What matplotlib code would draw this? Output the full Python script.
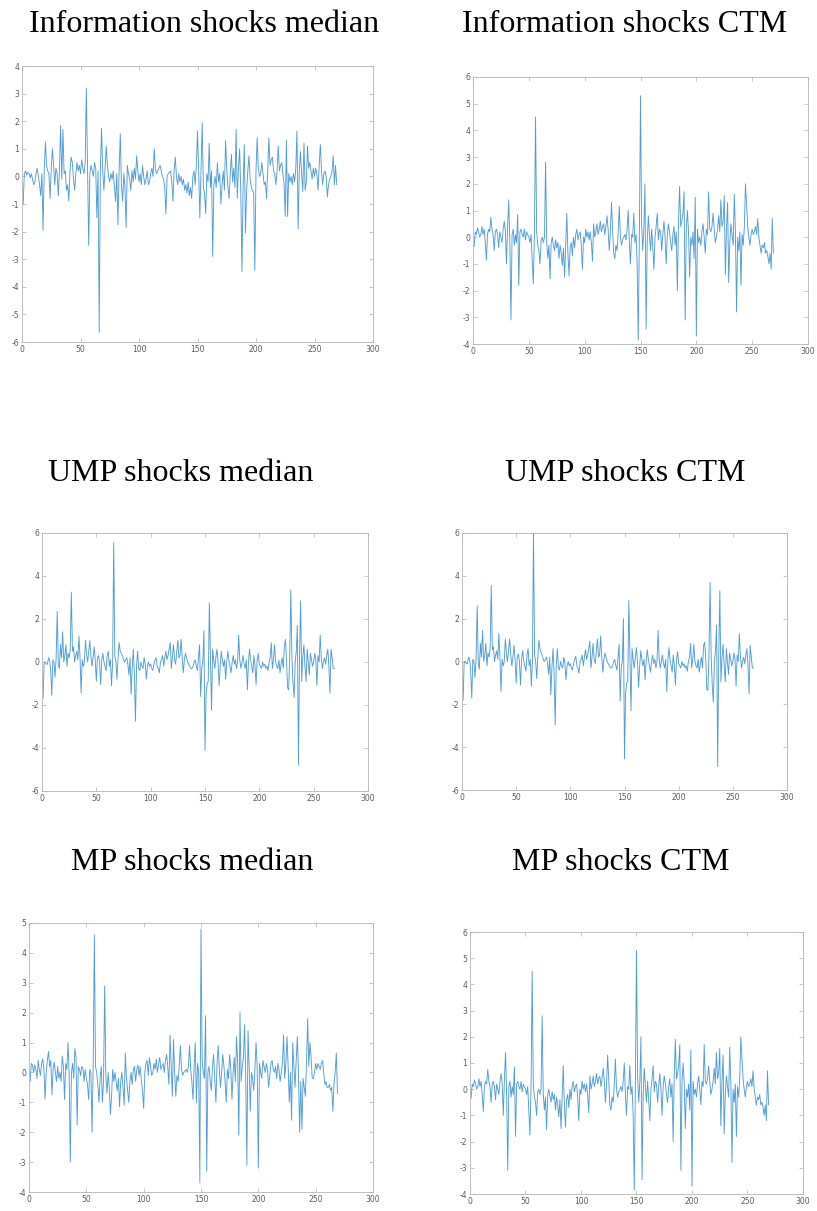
import matplotlib
matplotlib.use('Agg')
import matplotlib.pyplot as plt
import numpy as np

plt.rcParams['font.family'] = 'DejaVu Sans'
plt.rcParams['axes.unicode_minus'] = False

# series (index 1..269)
info_median = [
    -1.0, 0.1, 0.2, 0.05, 0.15, 0.1, -0.05, 0.1, -0.1, -0.3,
    -0.2, 0.1, 0.3, 0.0, -0.3, -0.7, 0.1, -1.95, 0.2, 1.25,
    0.4, 0.2, 0.1, -0.8, 0.3, 1.0, 0.4, -0.3, 0.3, 0.1,
    -0.7, 0.2, 1.85, -0.1, 1.7, 0.1, 0.2, -0.5, -0.3, -0.9,
    0.2, 0.7, 0.5, -0.1, -0.5, 0.1, 0.5, 0.2, 0.4, 0.1,
    0.6, 0.3, 0.1, 0.5, 3.2, 0.3, -2.5, 0.1, 0.4, 0.2,
    0.0, 0.5, 0.3, -1.5, 0.2, -5.65, 0.3, 1.75, 0.2, -0.5,
    0.3, 1.1, 0.4, 0.0, -0.2, 0.1, -0.1, 0.2, -0.4, -0.9,
    0.1, -1.75, 0.2, 1.55, -0.3, -0.9, 0.1, -0.4, -1.85, 0.4,
    0.1, -0.1, -0.5, 0.2, -0.2, 0.3, -0.1, 0.75, 0.2, -0.2,
    0.1, -0.3, 0.4, 0.0, -0.3, -0.1, 0.2, -0.3, -0.2, 0.1,
    0.3, 0.0, 1.0, 0.3, 0.1, 0.2, 0.3, 0.4, 0.2, 0.0,
    -0.1, -0.4, -1.35, 0.0, 0.1, 0.15, 0.2, -0.2, -0.9, 0.2,
    0.7, 0.0, -0.3, 0.1, -0.2, 0.0, -0.3, -0.1, -0.5, -0.3,
    -0.6, -0.2, -0.7, -0.4, -0.8, 0.0, 0.2, -0.3, 0.4, 1.65,
    0.2, -1.5, 0.3, 1.95, -0.4, -0.6, -1.35, 0.1, -0.2, 1.2,
    -0.4, 0.2, -2.9, -0.3, 0.0, -0.4, 0.5, -0.2, 0.1, -1.0,
    -0.3, 0.2, -0.5, 1.3, 0.3, -0.4, -0.8, 0.1, 0.8, -0.2,
    0.3, -0.4, 1.7, -0.8, 0.3, 1.0, -0.6, -3.45, -0.3, 1.15,
    -2.05, -0.5, 0.2, 0.75, -0.1, -0.4, -0.5, -0.6, -3.4, 0.2,
    1.4, 0.3, 0.0, 0.1, 0.5, 0.1, -0.3, -0.2, -0.8, 0.2,
    1.4, 0.4, 0.6, 0.7, 0.2, 0.1, -0.3, 0.2, 1.1, 0.2,
    0.4, 0.5, 0.1, -0.3, -1.45, 1.3, -1.45, 0.1, -0.2, 0.0,
    -0.3, 0.1, -0.2, 0.3, 1.65, -1.9, 0.2, 0.9, 0.1, -0.55,
    1.2, -0.5, -0.2, 1.1, 0.3, 0.5, 0.2, -0.1, 0.3, 0.0,
    0.3, 0.1, -0.5, 0.4, 1.15, 0.2, -0.3, 0.1, 0.2, 0.0,
    -0.75, -0.3, -0.1, 0.0, 0.2, 0.75, -0.3, 0.4, -0.3,
]

info_ctm = [
    -0.35, 0.2, 0.1, 0.35, 0.2, 0.0, 0.1, 0.4, 0.1, 0.3,
    -0.2, -0.85, 0.1, 0.3, 0.2, 0.75, 0.3, 0.1, -0.5, 0.2,
    0.3, 0.1, -0.4, 0.2, 0.0, -0.2, 0.3, 0.6, 0.2, -1.0,
    0.4, 1.4, -0.2, -3.1, 0.1, 0.3, -0.3, 0.1, -0.2, 0.85,
    -1.8, 0.2, 0.3, 0.1, 0.0, 0.3, -0.1, 0.2, 0.1, 0.0,
    -0.2, 0.1, -0.8, -1.75, 0.1, 4.5, 0.2, -0.3, -0.5, -1.0,
    -0.1, 0.0, -0.2, 0.0, 2.8, -0.2, -0.8, -0.3, -1.55, -0.2,
    0.0, -0.3, -0.5, -0.1, -0.4, -0.2, -0.8, -0.3, -0.6, -1.05,
    -0.4, -1.5, -0.3, 0.9, -0.6, -1.45, -0.4, -0.2, -0.7, 0.0,
    -0.4, 0.1, 0.3, -0.1, 0.1, 0.2, -0.3, -1.2, 0.0, -0.2,
    0.3, 0.0, 0.2, -0.1, 0.2, -0.2, -0.9, 0.5, 0.0, 0.2,
    0.5, 0.1, 0.3, 0.6, 0.2, 0.4, 0.5, 0.1, 0.4, 0.8,
    0.3, -0.5, 0.2, 1.3, 0.3, -0.6, -0.8, -0.3, -0.5, 0.2,
    1.15, 0.0, -0.3, -0.1, 0.0, 0.1, -0.1, 0.3, 1.0, -0.2,
    -1.0, 0.1, 0.0, 0.9, -0.2, 0.1, -1.0, -3.85, 0.2, 5.3,
    0.5, -0.5, 0.3, 2.0, -3.45, -0.2, 0.8, 0.1, -0.5, 0.3,
    -0.4, -1.2, 0.0, 0.4, 0.9, -0.1, 0.3, 0.2, -0.5, 0.1,
    0.6, 0.0, -1.0, 0.1, 0.5, 0.2, -0.2, -0.5, 0.1, 0.4,
    -0.3, 0.2, -2.0, 0.5, 1.9, 0.4, 0.6, 0.9, 1.7, -3.1,
    0.3, 1.0, 0.2, -1.5, 0.0, -0.3, 0.2, -0.8, 1.5, -3.7,
    0.3, -0.2, 0.0, -0.3, 0.2, 0.5, 0.0, -0.6, 0.3, 0.1,
    1.7, 0.3, 0.2, 0.4, 0.9, 0.3, -0.2, 0.0, 0.3, 0.8,
    0.2, 1.4, 0.4, 0.6, 1.55, -1.4, 0.3, 1.3, -1.7, -0.2,
    0.5, 0.1, -0.3, 1.6, 0.2, -2.8, 0.0, -0.5, 0.2, -1.8,
    0.1, -0.3, 0.4, 2.0, 1.2, 0.4, 0.0, -0.3, 0.1, 0.3,
    0.1, 0.2, 0.4, 0.1, 0.7, 0.0, -0.3, -0.6, -0.3, -0.4,
    -0.2, -0.6, -0.5, -0.7, -1.0, -0.6, -1.2, 0.7, -0.6,
]

ump_median = [
    -1.7, 0.0, 0.0, -0.1, -0.1, 0.2, 0.1, -0.4, -1.55, 0.1,
    0.0, -0.7, 0.2, 2.35, -0.1, -0.3, 0.8, 0.2, 1.4, 0.0,
    0.3, 0.8, -0.2, 0.4, 0.2, 0.6, 3.25, 0.5, 0.7, 0.0,
    0.3, 0.5, 0.1, 1.2, 0.2, -1.45, 0.1, -0.2, 0.0, 1.0,
    0.4, 0.0, 0.5, 1.0, 0.3, -0.2, 0.2, 0.7, 0.1, -0.9,
    0.2, 0.3, 0.0, -1.05, 0.1, 0.4, 0.0, -0.2, -0.4, 0.3,
    0.5, -0.2, 0.1, -1.1, 0.0, 5.55, 0.3, 0.0, -0.8, 0.2,
    0.9, 0.5, 0.4, 0.3, 0.1, 0.0, 0.1, 0.2, -0.1, -0.6,
    0.2, -1.5, -0.3, 0.6, -0.5, -2.75, -0.2, 0.5, -0.3, -0.4,
    0.0, -0.2, -0.3, 0.2, -0.1, -0.8, -0.2, 0.0, -0.2, -0.1,
    -0.3, -0.4, -0.1, 0.1, 0.2, -0.2, -0.3, -0.5, 0.0, 0.1,
    0.3, -0.2, 0.2, 0.5, 0.1, 0.3, 0.6, 0.9, -0.3, 0.2,
    0.8, 0.1, -0.1, 0.5, 1.0, 0.2, 0.3, 1.05, 0.2, -0.5,
    0.1, 0.4, 0.2, 0.0, -0.1, -0.2, -0.3, -0.3, -0.2, 0.0,
    0.1, -0.2, -0.4, 0.2, 0.8, -1.6, -0.3, 0.0, 1.45, -4.1,
    -1.5, -1.0, -0.9, 2.75, 0.3, -2.25, 0.6, 0.1, -0.3, 0.2,
    0.6, 0.0, -1.1, -0.2, 0.5, 0.1, -0.2, 0.1, -0.8, 0.0,
    0.5, 0.1, -0.2, -0.5, 0.0, 0.3, -0.1, 0.1, -0.3, 0.0,
    1.25, 0.1, -0.3, 0.0, 0.3, -0.1, -0.3, 0.1, -1.3, 0.0,
    0.6, 0.1, -0.2, -0.5, 0.3, -0.2, -1.05, 0.1, 0.4, -0.1,
    -0.2, -0.3, 0.0, -0.2, -0.1, -0.3, -0.2, -0.4, 0.0, 0.2,
    0.9, -0.3, 0.1, 0.8, 0.0, -0.2, -0.3, 0.1, -0.5, -0.1,
    0.2, -0.3, 0.7, 1.05, 0.1, -1.2, -1.3, 0.4, 3.35, 0.2,
    -1.0, -1.65, 0.0, 0.5, 1.7, -4.8, 0.3, 2.85, -0.9, 0.2,
    0.8, -0.2, -0.9, 0.6, 0.0, -0.6, 0.4, 0.1, -0.2, 0.0,
    0.4, 0.1, -1.1, 0.3, 0.0, 1.25, 0.2, -0.3, 0.0, 0.2,
    -0.1, 0.3, 0.6, -0.2, -1.45, 0.6, 0.2, -0.3, -0.3,
]

ump_ctm = [
    -1.8, 0.0, 0.0, -0.1, -0.1, 0.2, 0.1, -0.4, -1.7, 0.1,
    0.0, -0.75, 0.2, 2.6, -0.1, -0.35, 0.85, 0.2, 1.45, 0.0,
    0.3, 0.85, -0.2, 0.4, 0.2, 0.6, 3.55, 0.55, 0.7, 0.0,
    0.3, 0.5, 0.1, 1.3, 0.2, -1.4, 0.1, -0.2, 0.0, 1.05,
    0.4, 0.0, 0.5, 1.05, 0.3, -0.2, 0.2, 0.75, 0.1, -1.0,
    0.2, 0.35, 0.0, -1.1, 0.1, 0.5, 0.0, -0.2, -0.45, 0.3,
    0.6, -0.2, 0.1, -1.15, 0.0, 6.0, 0.3, 0.0, -0.8, 0.2,
    1.0, 0.6, 0.4, 0.3, 0.1, 0.0, 0.1, 0.2, -0.1, -0.6,
    0.2, -1.55, -0.3, 0.6, -0.5, -2.95, -0.2, 0.6, -0.3, -0.4,
    0.0, -0.2, -0.3, 0.2, -0.1, -0.85, -0.2, 0.0, -0.2, -0.1,
    -0.3, -0.4, -0.1, 0.1, 0.25, -0.2, -0.3, -0.55, 0.0, 0.1,
    0.3, -0.2, 0.2, 0.55, 0.1, 0.3, 0.6, 0.95, -0.3, 0.2,
    0.85, 0.1, -0.1, 0.5, 1.05, 0.2, 0.3, 1.2, 0.2, -0.5,
    0.1, 0.4, 0.2, 0.0, -0.1, -0.2, -0.3, -0.3, -0.2, 0.0,
    0.1, -0.2, -0.4, 0.2, 0.8, -1.85, -0.3, 0.0, 2.0, -4.55,
    -1.5, -1.0, -0.9, 2.85, 0.3, -2.3, 0.6, 0.1, -0.3, 0.2,
    0.65, 0.0, -1.2, -0.2, 0.5, 0.1, -0.2, 0.1, -0.85, 0.0,
    0.55, 0.1, -0.2, -0.5, 0.0, 0.3, -0.1, 0.1, -0.3, 0.0,
    1.45, 0.1, -0.3, 0.0, 0.3, -0.1, -0.3, 0.1, -1.4, 0.0,
    0.65, 0.1, -0.2, -0.5, 0.3, -0.2, -1.1, 0.1, 0.45, -0.1,
    -0.2, -0.3, 0.0, -0.2, -0.1, -0.3, -0.2, -0.45, 0.0, 0.2,
    0.85, -0.3, 0.1, 0.8, 0.0, -0.2, -0.3, 0.1, -0.5, -0.1,
    0.2, -0.3, 0.75, 0.9, 0.1, -1.3, -1.35, 0.4, 3.7, 0.2,
    -1.1, -1.9, 0.0, 0.5, 1.7, -4.9, 0.3, 3.3, -0.95, 0.2,
    0.8, -0.2, -0.95, 0.6, 0.0, -0.6, 0.4, 0.1, -0.2, 0.0,
    0.4, 0.1, -1.15, 0.3, 0.0, 1.3, 0.2, -0.3, 0.0, 0.2,
    -0.1, 0.3, 0.6, -0.2, -1.5, 0.75, 0.2, -0.3, -0.3,
]

mp_median = [
    -0.3, 0.3, 0.25, 0.0, 0.25, 0.1, -0.2, 0.4, 0.1, -0.1,
    0.3, 0.45, 0.1, -0.9, 0.0, 0.4, 0.7, 0.2, 0.4, -0.75,
    0.1, 0.35, 0.0, -0.3, 0.2, -0.2, 0.0, -0.3, 0.55, 0.2,
    -0.9, 0.3, 0.1, 1.0, 0.0, -3.0, 0.0, 0.3, -0.2, 0.8,
    0.5, -1.75, 0.2, 0.1, -0.1, 0.2, 0.15, -0.3, 0.1, -0.2,
    -0.4, -0.9, 0.1, 0.0, -2.0, 0.3, 4.6, 0.2, 0.0, -0.4,
    -1.0, -0.2, 0.2, -1.0, -0.3, 2.9, -0.1, -0.7, 0.0, -0.5,
    -1.4, -0.8, 0.1, -0.3, 0.0, -0.3, -0.6, -0.2, -1.15, -0.3,
    0.0, -0.5, -1.1, 0.65, -0.2, -0.6, -1.0, -0.3, 0.0, -0.4,
    0.1, 0.2, -0.3, 0.1, 0.25, -0.1, 0.2, -0.3, -0.6, -1.2,
    0.0, 0.3, 0.4, -0.1, 0.5, 0.2, -0.1, 0.0, 0.3, 0.1,
    0.45, 0.0, 0.3, 0.5, 0.1, 0.2, 0.3, 0.0, 0.4, 0.6,
    0.2, -0.4, 1.25, 0.2, -0.8, 1.1, 0.0, -0.8, -0.1, -0.3,
    0.2, 0.9, 0.1, -0.1, 0.0, 0.05, 0.1, 0.0, 0.2, 0.9,
    0.1, -0.3, -0.9, 0.2, 1.0, -1.0, 0.3, 0.0, -3.7, 4.8,
    0.4, 0.0, -0.2, 1.9, -3.3, 0.0, 0.2, -0.3, -0.6, 0.2,
    0.6, -0.2, -1.0, 0.3, 0.9, 0.1, -0.5, 0.0, 0.6, 0.2,
    -0.3, -1.0, 0.1, -0.2, 0.6, 0.1, -0.9, 0.0, 0.5, -0.3,
    1.2, 0.3, -2.1, 2.0, -0.3, 0.2, 0.5, 1.6, -0.2, -3.1,
    1.4, 0.2, -1.3, 0.0, -0.2, -0.6, 0.1, 1.0, 0.2, -3.2,
    0.3, 0.0, -0.2, 0.4, 0.2, 0.0, 0.3, 0.1, -0.5, -0.1,
    0.3, 0.4, 0.1, 0.0, 0.2, -0.2, 0.3, 0.1, -0.3, 0.0,
    0.3, 1.25, -0.2, 0.3, 1.2, 0.2, -1.0, 0.0, -1.6, 1.0,
    0.2, -0.5, 0.4, 1.2, 0.0, -2.0, -0.3, -1.9, -0.2, -0.5,
    -0.8, 0.3, 1.8, 0.2, 1.0, 0.5, -0.2, -0.2, 0.0, 0.3,
    0.1, 0.3, 0.2, 0.1, 0.3, 0.4, 0.0, -0.4, -0.3, -0.5,
    -0.5, -0.4, -0.6, -0.5, -1.3, -0.4, 0.0, 0.65, -0.7,
]

# the MP CTM panel shows the same series as Information CTM
mp_ctm = list(info_ctm)

titles = ['Information shocks median', 'Information shocks CTM',
          'UMP shocks median', 'UMP shocks CTM',
          'MP shocks median', 'MP shocks CTM']
series = [info_median, info_ctm, ump_median, ump_ctm, mp_median, mp_ctm]
ylims = [(-6, 4), (-4, 6), (-6, 6), (-6, 6), (-4, 5), (-4, 6)]
ysteps = [1, 1, 2, 2, 1, 1]

# pixel boxes (left, top, right, bottom) and title centres
W, H = 817, 1211
boxes = [(22, 66, 373, 342), (473, 77, 808, 344),
         (42, 533, 368, 791), (462, 533, 787, 790),
         (29, 923, 373, 1192), (470, 932, 803, 1194)]
title_pos = [(204, 24), (625, 24), (181, 473), (625, 473), (192, 863), (621, 863)]

fig = plt.figure(figsize=(W / 100, H / 100), dpi=100)

for i in range(6):
    l, t, r, b = boxes[i]
    ax = fig.add_axes([l / W, 1 - b / H, (r - l) / W, (b - t) / H])
    y = series[i]
    x = np.arange(1, len(y) + 1)
    ax.plot(x, y, color='#4f9dd8', lw=0.65)
    ax.set_xlim(0, 300)
    ax.set_ylim(*ylims[i])
    ax.set_xticks(np.arange(0, 301, 50))
    ax.set_yticks(np.arange(ylims[i][0], ylims[i][1] + 0.1, ysteps[i]))
    ax.tick_params(direction='in', length=3, width=0.5, colors='#b0b0b0',
                   labelcolor='#5a5a5a', labelsize=5.5, top=True, right=True, pad=2)
    for s in ax.spines.values():
        s.set_color('#b5b5b5')
        s.set_linewidth(0.6)
    tx, ty = title_pos[i]
    fig.text(tx / W, 1 - ty / H, titles[i], ha='center', va='center',
             fontsize=23, family='Liberation Serif')

fig.savefig('out.png', dpi=100)
